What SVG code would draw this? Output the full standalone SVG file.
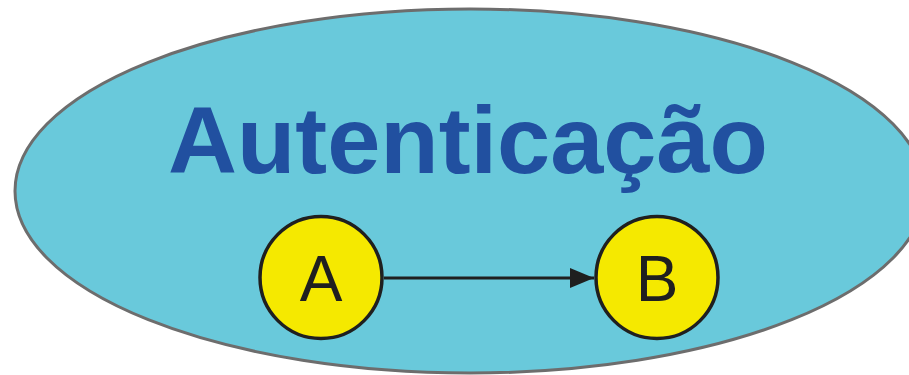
<svg xmlns="http://www.w3.org/2000/svg" width="909" height="375" viewBox="0 0 909 375">
<defs>
<style>
.node circle{fill:#f5e900;stroke:#1f1f1f;stroke-width:3.5}
.node text{font-family:"Liberation Sans",Arial,sans-serif;font-size:64px;fill:#1f1f1f;text-anchor:middle}
</style>
<marker id="arr" markerUnits="userSpaceOnUse" markerWidth="26" markerHeight="22" refX="24" refY="10" orient="auto">
<path d="M0,0 L24,10 L0,20 Z" fill="#1f1f1f"/>
</marker>
</defs>
<rect width="909" height="375" fill="#ffffff"/>
<g id="auth">
<ellipse cx="470" cy="191" rx="455" ry="182" fill="#69c9db" stroke="#6d6d6d" stroke-width="3"/>
<text x="468" y="173" text-anchor="middle" font-family="Liberation Sans,Arial,sans-serif" font-weight="bold" font-size="95" fill="#2150a0" textLength="600" lengthAdjust="spacingAndGlyphs">Autenticação</text>
</g>
<g id="connectors">
<line x1="384" y1="278" x2="594" y2="278" stroke="#1f1f1f" stroke-width="3" marker-end="url(#arr)"/>
</g>
<g id="A" class="node">
<circle cx="321" cy="277.5" r="61"/>
<text x="321" y="301">A</text>
</g>
<g id="B" class="node">
<circle cx="657" cy="277.5" r="61"/>
<text x="657" y="301">B</text>
</g>
</svg>
